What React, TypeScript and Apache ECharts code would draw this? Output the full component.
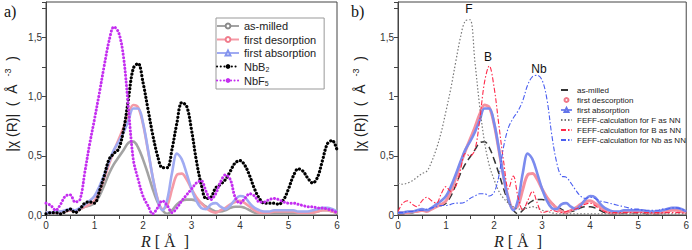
import React, { useEffect, useRef } from "react";
import * as echarts from "echarts";

// Radial distance R [Å]
const R = [
  0.0, 0.1, 0.2, 0.3, 0.4, 0.5, 0.6, 0.7, 0.8, 0.9,
  1.0, 1.1, 1.2, 1.3, 1.4, 1.5, 1.6, 1.7, 1.8, 1.9,
  2.0, 2.1, 2.2, 2.3, 2.4, 2.5, 2.6, 2.7, 2.8, 2.9,
  3.0, 3.1, 3.2, 3.3, 3.4, 3.5, 3.6, 3.7, 3.8, 3.9,
  4.0, 4.1, 4.2, 4.3, 4.4, 4.5, 4.6, 4.7, 4.8, 4.9,
  5.0, 5.1, 5.2, 5.3, 5.4, 5.5, 5.6, 5.7, 5.8, 5.9, 6.0,
];

const asMilled = [
  0.01, 0.01, 0.02, 0.02, 0.03, 0.04, 0.03, 0.05, 0.07, 0.08,
  0.10, 0.16, 0.25, 0.35, 0.43, 0.49, 0.55, 0.61, 0.62, 0.57,
  0.47, 0.35, 0.22, 0.11, 0.04, 0.01, 0.04, 0.09, 0.12, 0.13,
  0.13, 0.12, 0.10, 0.07, 0.05, 0.03, 0.03, 0.04, 0.06, 0.07,
  0.07, 0.06, 0.04, 0.02, 0.01, 0.01, 0.01, 0.02, 0.02, 0.02,
  0.02, 0.02, 0.01, 0.01, 0.01, 0.02, 0.03, 0.04, 0.04, 0.03, 0.02,
];

const firstDesorption = [
  0.02, 0.02, 0.02, 0.03, 0.03, 0.04, 0.03, 0.05, 0.07, 0.09,
  0.12, 0.20, 0.31, 0.43, 0.54, 0.64, 0.74, 0.85, 0.93, 0.91,
  0.77, 0.55, 0.32, 0.14, 0.05, 0.08, 0.22, 0.34, 0.35, 0.30,
  0.22, 0.15, 0.10, 0.06, 0.03, 0.02, 0.04, 0.06, 0.09, 0.11,
  0.12, 0.10, 0.07, 0.04, 0.02, 0.02, 0.02, 0.03, 0.03, 0.03,
  0.03, 0.03, 0.02, 0.02, 0.02, 0.02, 0.03, 0.04, 0.04, 0.03, 0.02,
];

const firstAbsorption = [
  0.02, 0.02, 0.03, 0.03, 0.04, 0.05, 0.04, 0.06, 0.09, 0.12,
  0.16, 0.24, 0.34, 0.45, 0.55, 0.62, 0.70, 0.80, 0.90, 0.90,
  0.78, 0.56, 0.32, 0.13, 0.04, 0.13, 0.36, 0.52, 0.47, 0.35,
  0.22, 0.12, 0.06, 0.05, 0.09, 0.10, 0.07, 0.05, 0.08, 0.13,
  0.16, 0.15, 0.10, 0.06, 0.04, 0.03, 0.03, 0.04, 0.04, 0.04,
  0.04, 0.04, 0.03, 0.03, 0.03, 0.04, 0.05, 0.06, 0.06, 0.05, 0.03,
];

const nbB2 = [
  0.01, 0.02, 0.02, 0.01, 0.03, 0.05, 0.02, 0.05, 0.10, 0.11,
  0.10, 0.20, 0.33, 0.47, 0.52, 0.56, 0.72, 0.98, 1.24, 1.28,
  1.12, 0.90, 0.68, 0.50, 0.40, 0.40, 0.56, 0.78, 0.95, 0.92,
  0.72, 0.46, 0.26, 0.14, 0.15, 0.23, 0.26, 0.30, 0.37, 0.44,
  0.46, 0.42, 0.33, 0.22, 0.14, 0.10, 0.10, 0.10, 0.09, 0.13,
  0.22, 0.33, 0.39, 0.37, 0.31, 0.27, 0.32, 0.46, 0.60, 0.63, 0.55,
];

const nbF5 = [
  0.10, 0.08, 0.04, 0.09, 0.16, 0.17, 0.11, 0.13, 0.36, 0.60,
  0.81, 1.03, 1.26, 1.47, 1.59, 1.54, 1.33, 0.90, 0.47, 0.30,
  0.16, 0.08, 0.01, 0.06, 0.12, 0.08, 0.02, 0.06, 0.12, 0.17,
  0.22, 0.27, 0.29, 0.20, 0.13, 0.18, 0.28, 0.34, 0.30, 0.15,
  0.10, 0.14, 0.18, 0.16, 0.11, 0.11, 0.13, 0.14, 0.13, 0.11,
  0.10, 0.10, 0.09, 0.08, 0.07, 0.07, 0.06, 0.06, 0.05, 0.04, 0.02,
];

const feffF = [
  0.27, 0.26, 0.27, 0.29, 0.32, 0.35, 0.37, 0.45, 0.56, 0.70,
  0.88, 1.07, 1.29, 1.50, 1.64, 1.65, 1.30, 0.92, 0.62, 0.42,
  0.30, 0.20, 0.14, 0.10, 0.07, 0.05, 0.05, 0.06, 0.07, 0.06,
  0.04, 0.03, 0.02, 0.01, 0.01, 0.01, 0.01, 0.01, 0.01, 0.01,
  0.01, 0.01, 0.01, 0.01, 0.01, 0.01, 0.01, 0.01, 0.01, 0.01,
  0.01, 0.01, 0.01, 0.01, 0.01, 0.01, 0.01, 0.01, 0.01, 0.01, 0.01,
];

const feffB = [
  0.03, 0.10, 0.12, 0.09, 0.07, 0.12, 0.15, 0.12, 0.10, 0.18,
  0.24, 0.20, 0.24, 0.38, 0.52, 0.50, 0.55, 0.80, 1.12, 1.26,
  1.08, 0.76, 0.45, 0.22, 0.33, 0.15, 0.04, 0.12, 0.20, 0.10,
  0.02, 0.03, 0.04, 0.03, 0.02, 0.03, 0.04, 0.05, 0.07, 0.09,
  0.10, 0.08, 0.05, 0.03, 0.02, 0.02, 0.02, 0.02, 0.02, 0.02,
  0.02, 0.02, 0.02, 0.02, 0.02, 0.02, 0.02, 0.02, 0.02, 0.02, 0.01,
];

const feffNb = [
  0.02, 0.02, 0.03, 0.03, 0.04, 0.04, 0.05, 0.06, 0.07, 0.08,
  0.08, 0.09, 0.10, 0.10, 0.11, 0.14, 0.16, 0.18, 0.18, 0.16,
  0.19, 0.33, 0.58, 0.74, 0.82, 0.88, 0.97, 1.10, 1.17, 1.18,
  1.14, 0.98, 0.68, 0.45, 0.33, 0.32, 0.27, 0.21, 0.16, 0.14,
  0.15, 0.14, 0.12, 0.11, 0.10, 0.09, 0.08, 0.07, 0.06, 0.05,
  0.05, 0.04, 0.04, 0.04, 0.04, 0.05, 0.05, 0.06, 0.06, 0.05, 0.03,
];

const xTickLabels = ["0", "1", "2", "3", "4", "5", "6"];
const yTickLabelsA = ["0,0", "0,5", "1,0", "1,5"];
const yTickLabelsB = ["0", "0,5", "1", "1,5"];

const namesA = ["as-milled", "first desorption", "first absorption", "NbB2", "NbF5"];
const namesB = [
  "b:as-milled",
  "first descorption",
  "b:first absorption",
  "FEFF-calculation for F as NN",
  "FEFF-calculation for B as NN",
  "FEFF-calculation for Nb as NN",
];

const pts = (v: number[]) => R.map((r, i) => [r, v[i]]);

const SANS = "Liberation Sans, Arial, sans-serif";
const SERIF = "Liberation Serif, Times New Roman, serif";

function xAxis(gridIndex: number) {
  return {
    type: "value",
    gridIndex,
    min: 0,
    max: 6,
    interval: 0.5,
    axisLine: { show: true, onZero: false, lineStyle: { color: "#444", width: 1 } },
    axisTick: { show: true, inside: false, length: 4, lineStyle: { color: "#444" } },
    axisLabel: {
      fontSize: 10,
      fontFamily: SANS,
      color: "#333",
      margin: 5,
      formatter: (v: number) => {
        const k = Math.round(v * 2);
        return k % 2 === 0 ? xTickLabels[k / 2] ?? "" : "";
      },
    },
    splitLine: { show: false },
  };
}

function yAxis(gridIndex: number, labels: string[]) {
  return {
    type: "value",
    gridIndex,
    min: 0,
    max: 1.8,
    interval: 0.25,
    axisLine: { show: true, onZero: false, lineStyle: { color: "#444", width: 1 } },
    axisTick: { show: true, inside: false, length: 4, lineStyle: { color: "#444" } },
    axisLabel: {
      fontSize: 10,
      fontFamily: SANS,
      color: "#333",
      margin: 4,
      formatter: (v: number) => {
        const k = Math.round(v * 4);
        if (Math.abs(v * 4 - k) > 1e-6 || k % 2 !== 0) return "";
        return labels[k / 2] ?? "";
      },
    },
    splitLine: { show: false },
  };
}

function line(name: string, data: number[], idx: number, color: string, extra: any) {
  return {
    type: "line",
    name,
    xAxisIndex: idx,
    yAxisIndex: idx,
    data: pts(data),
    smooth: 0.35,
    clip: false,
    color,
    ...extra,
  };
}

function yName(x: number) {
  return {
    type: "text",
    x,
    y: 104,
    rotation: Math.PI / 2,
    style: {
      text: "|χ (R)|  (  Å  {sup|-3}  )",
      font: `14px ${SANS}`,
      fill: "#222",
      align: "center",
      verticalAlign: "middle",
      rich: { sup: { fontSize: 9, fontFamily: SANS, fill: "#222", padding: [0, 0, 9, 0] } },
    },
  };
}

function xName(x: number) {
  return {
    type: "text",
    x,
    y: 241,
    style: {
      text: "{i|R} [ Å  ]",
      font: `16px ${SERIF}`,
      fill: "#222",
      align: "center",
      verticalAlign: "middle",
      rich: { i: { fontStyle: "italic", fontSize: 16, fontFamily: SERIF, fill: "#222" } },
    },
  };
}

export default function App() {
  const ref = useRef<HTMLDivElement>(null);

  useEffect(() => {
    const chart = echarts.init(ref.current!, null, { renderer: "svg" });
    const subRich = {
      sub: { fontSize: 7, fontFamily: SANS, color: "#222", padding: [6, 0, 0, 0] },
    };
    const hideSym = { itemStyle: { opacity: 0 } };
    const option: any = {
      animation: false,
      backgroundColor: "#fff",
      grid: [
        { left: 46, right: 355, top: 2, bottom: 35, show: true, borderColor: "#444", borderWidth: 1 },
        { left: 398, right: 4, top: 2, bottom: 35, show: true, borderColor: "#444", borderWidth: 1 },
      ],
      xAxis: [xAxis(0), xAxis(1)],
      yAxis: [yAxis(0, yTickLabelsA), yAxis(1, yTickLabelsB)],
      legend: [
        {
          data: namesA,
          orient: "vertical",
          left: 216,
          top: 18,
          selectedMode: false,
          borderColor: "#999",
          borderWidth: 1,
          padding: [2, 8, 2, 0],
          itemGap: 1.5,
          itemWidth: 22,
          itemHeight: 6,
          textStyle: { fontSize: 11, lineHeight: 12, fontFamily: SANS, color: "#222", rich: subRich },
          formatter: (n: string) =>
            n === "NbB2" ? "NbB{sub|2}" : n === "NbF5" ? "NbF{sub|5}" : n,
        },
        {
          data: [
            { name: namesB[0], ...hideSym },
            { name: namesB[1], lineStyle: { opacity: 0 } },
            { name: namesB[2] },
            { name: namesB[3], ...hideSym },
            { name: namesB[4], ...hideSym },
            { name: namesB[5], ...hideSym },
          ],
          orient: "vertical",
          left: 560,
          top: 86,
          selectedMode: false,
          padding: 0,
          itemGap: 2,
          itemWidth: 11,
          itemHeight: 5,
          textStyle: { fontSize: 8, lineHeight: 8, fontFamily: SANS, color: "#222" },
          formatter: (n: string) => n.replace(/^b:/, ""),
        },
      ],
      graphic: [
        { type: "text", left: 4, top: 3, style: { text: "a)", font: `16px ${SERIF}`, fill: "#111" } },
        { type: "text", left: 351, top: 3, style: { text: "b)", font: `16px ${SERIF}`, fill: "#111" } },
        { type: "text", x: 469, y: 9, style: { text: "F", font: `12px ${SANS}`, fill: "#111", align: "center", verticalAlign: "middle" } },
        { type: "text", x: 488, y: 57, style: { text: "B", font: `12px ${SANS}`, fill: "#111", align: "center", verticalAlign: "middle" } },
        { type: "text", x: 539, y: 69, style: { text: "Nb", font: `12px ${SANS}`, fill: "#111", align: "center", verticalAlign: "middle" } },
        yName(12),
        yName(360),
        xName(165),
        xName(518),
      ],
      series: [
        // Panel a)
        line("as-milled", asMilled, 0, "#8a8a8a", {
          symbol: "emptyCircle",
          symbolSize: 4,
          showSymbol: false,
          lineStyle: { width: 2.6, color: "#a3a3a3" },
          itemStyle: { color: "#8a8a8a", borderWidth: 1 },
        }),
        line("first desorption", firstDesorption, 0, "#f07c8c", {
          symbol: "emptyCircle",
          symbolSize: 4,
          showSymbol: false,
          lineStyle: { width: 2.6, color: "#f59aa6" },
          itemStyle: { color: "#f07c8c", borderWidth: 1 },
        }),
        line("first absorption", firstAbsorption, 0, "#8393ee", {
          symbol: "emptyTriangle",
          symbolSize: 4,
          showSymbol: false,
          lineStyle: { width: 2.6, color: "#a0abf2" },
          itemStyle: { color: "#8393ee", borderWidth: 1 },
        }),
        line("NbB2", nbB2, 0, "#000", {
          symbol: "circle",
          symbolSize: 4,
          showSymbol: false,
          lineStyle: { width: 3.2, color: "#000", type: [0.1, 3.6], cap: "round" },
        }),
        line("NbF5", nbF5, 0, "#c42ef0", {
          symbol: "circle",
          symbolSize: 4,
          showSymbol: false,
          lineStyle: { width: 3, color: "#c42ef0", type: [0.1, 3.4], cap: "round" },
        }),
        // Panel b)
        line("b:as-milled", asMilled, 1, "#333", {
          symbol: "none",
          lineStyle: { width: 1.5, color: "#333", type: [7, 4] },
        }),
        line("first descorption", firstDesorption, 1, "#f07888", {
          symbol: "emptyCircle",
          symbolSize: 4,
          showSymbol: false,
          lineStyle: { width: 3, color: "#f6909e" },
          itemStyle: { color: "#f07888", borderWidth: 1 },
        }),
        line("b:first absorption", firstAbsorption, 1, "#6374ea", {
          symbol: "emptyTriangle",
          symbolSize: 4,
          showSymbol: false,
          lineStyle: { width: 2.6, color: "#7b8bee" },
          itemStyle: { color: "#6374ea", borderWidth: 1 },
        }),
        line("FEFF-calculation for F as NN", feffF, 1, "#777", {
          symbol: "none",
          lineStyle: { width: 1.2, color: "#777", type: [1.5, 2] },
        }),
        line("FEFF-calculation for B as NN", feffB, 1, "#ff2a4a", {
          symbol: "none",
          lineStyle: { width: 1.1, color: "#ff2a4a", type: [5, 2, 1.5, 2] },
        }),
        line("FEFF-calculation for Nb as NN", feffNb, 1, "#4a5ef0", {
          symbol: "none",
          lineStyle: { width: 1.1, color: "#4a5ef0", type: [5, 2, 1.5, 2] },
        }),
      ],
    };
    chart.setOption(option);
    return () => chart.dispose();
  }, []);

  return (
    <div
      ref={ref}
      style={{ position: "fixed", left: 0, top: 0, width: 692, height: 250, background: "#fff" }}
    />
  );
}
